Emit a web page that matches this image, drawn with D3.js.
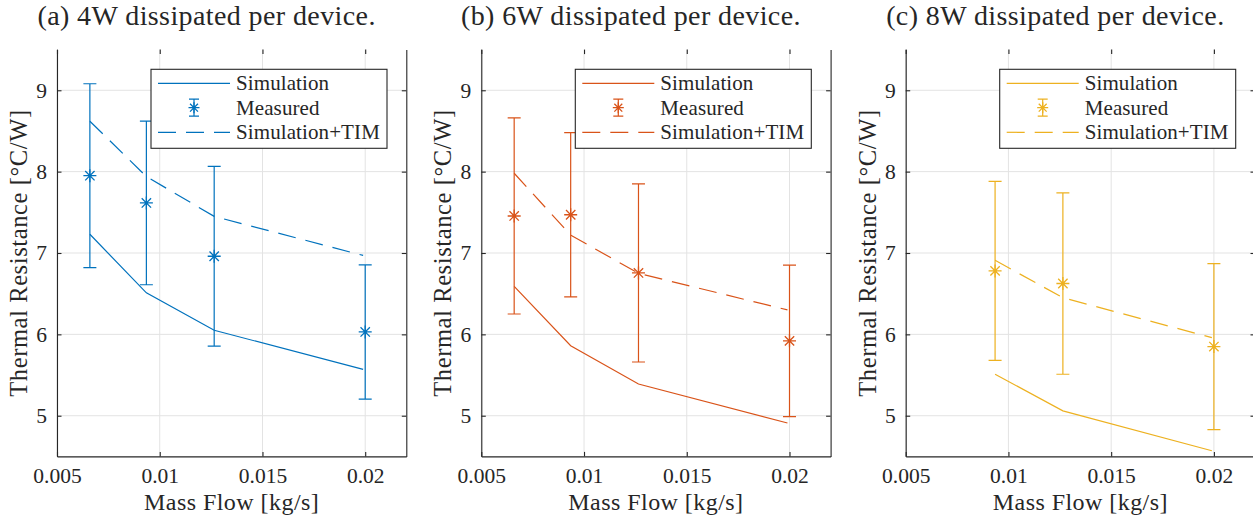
<!DOCTYPE html>
<html>
<head>
<meta charset="utf-8">
<script src="https://cdn.jsdelivr.net/npm/d3@7"></script>
<style>
  html, body { margin: 0; padding: 0; background: #fff; }
  svg { display: block; }
</style>
</head>
<body>
<svg id="chart" width="1253" height="520"></svg>
<script>
// Mass flow rates of the test points [kg/s]
const flowMeasured = [0.0066, 0.00935, 0.01265, 0.02];
const flowSim = [0.0066, 0.00935, 0.01265, 0.0199];

// 4 W per device
const measured4W = [7.95, 7.615, 6.96, 6.03];
const error4W = [1.13, 1.005, 1.105, 0.825];
const sim4W = [7.23, 6.51, 6.05, 5.57];
const simTim4W = [8.62, 7.94, 7.45, 6.97];

// 6 W per device
const measured6W = [7.455, 7.47, 6.755, 5.92];
const error6W = [1.205, 1.01, 1.095, 0.93];
const sim6W = [6.59, 5.86, 5.39, 4.91];
const simTim6W = [7.98, 7.22, 6.75, 6.30];

// 8 W per device (no run at the lowest flow)
const flowMeasured8W = [0.00935, 0.01265, 0.02];
const flowSim8W = [0.00935, 0.01265, 0.0199];
const measured8W = [6.78, 6.625, 5.85];
const error8W = [1.10, 1.115, 1.02];
const sim8W = [5.51, 5.06, 4.57];
const simTim8W = [6.91, 6.45, 5.96];

// Axes
const xTicks = [0.005, 0.01, 0.015, 0.02];
const xTickLabels = ["0.005", "0.01", "0.015", "0.02"];
const yTicks = [5, 6, 7, 8, 9];
const yTickLabels = ["5", "6", "7", "8", "9"];
const xDomain = [0.005, 0.022];
const yDomain = [4.5, 9.5];

const titles = ["(a) 4W dissipated per device.", "(b) 6W dissipated per device.", "(c) 8W dissipated per device."];
const legendLabels = ["Simulation", "Measured", "Simulation+TIM"];
const xLabel = "Mass Flow [kg/s]";
const yLabel = "Thermal Resistance [\u00B0C/W]";
const colors = ["#0072BD", "#D95319", "#EDB120"];

const panels = [
  { title: titles[0], color: colors[0], fm: flowMeasured, fs: flowSim, m: measured4W, e: error4W, s: sim4W, t: simTim4W },
  { title: titles[1], color: colors[1], fm: flowMeasured, fs: flowSim, m: measured6W, e: error6W, s: sim6W, t: simTim6W },
  { title: titles[2], color: colors[2], fm: flowMeasured8W, fs: flowSim8W, m: measured8W, e: error8W, s: sim8W, t: simTim8W }
];

const FONT = "'Liberation Serif', 'Times New Roman', Times, serif";
const svg = d3.select("#chart").style("font-family", FONT);
const axLefts = [57, 481.3, 905.7];
const axW = 349.3, axTop = 49.6, axBottom = 456.4;
const axColor = "#262626", gridColor = "#e3e3e3";
const tickLen = 4.5;
const dash = "18,10";

function label(sel, size, spacing) {
  return sel.style("font-family", FONT).style("font-size", size + "px")
    .style("letter-spacing", (spacing || 0) + "px").style("fill", axColor);
}

function asterisk(g, cx, cy, r, color, w) {
  const d = r * 0.72;
  const p = `M${cx - r},${cy}H${cx + r}M${cx},${cy - r}V${cy + r}` +
            `M${cx - d},${cy - d}L${cx + d},${cy + d}M${cx - d},${cy + d}L${cx + d},${cy - d}`;
  g.append("path").attr("d", p).attr("stroke", color).attr("stroke-width", w).attr("fill", "none");
}

panels.forEach((p, i) => {
  const left = axLefts[i];
  const x = d3.scaleLinear().domain(xDomain).range([left, left + axW]);
  const y = d3.scaleLinear().domain(yDomain).range([axBottom, axTop]);
  const g = svg.append("g");

  // grid
  g.append("g").selectAll("line").data(xTicks).join("line")
    .attr("x1", d => x(d)).attr("x2", d => x(d)).attr("y1", axTop).attr("y2", axBottom)
    .attr("stroke", gridColor).attr("stroke-width", 1);
  g.append("g").selectAll("line").data(yTicks).join("line")
    .attr("x1", left).attr("x2", left + axW).attr("y1", d => y(d)).attr("y2", d => y(d))
    .attr("stroke", gridColor).attr("stroke-width", 1);

  // axes with inward ticks on all four sides, no top spine
  const axB = g.append("g").attr("transform", `translate(0,${axBottom})`)
    .call(d3.axisBottom(x).tickValues(xTicks).tickSizeInner(-tickLen).tickSizeOuter(0)
      .tickFormat((d, k) => xTickLabels[k]).tickPadding(14));
  const axT = g.append("g").attr("transform", `translate(0,${axTop})`)
    .call(d3.axisTop(x).tickValues(xTicks).tickSizeInner(-tickLen).tickSizeOuter(0).tickFormat(""));
  const axL = g.append("g").attr("transform", `translate(${left},0)`)
    .call(d3.axisLeft(y).tickValues(yTicks).tickSizeInner(-tickLen).tickSizeOuter(0)
      .tickFormat((d, k) => yTickLabels[k]).tickPadding(10));
  const axR = g.append("g").attr("transform", `translate(${left + axW},0)`)
    .call(d3.axisRight(y).tickValues(yTicks).tickSizeInner(-tickLen).tickSizeOuter(0).tickFormat(""));
  axT.select(".domain").remove();
  [axB, axT, axL, axR].forEach(a => {
    a.attr("font-family", null).attr("font-size", null);
    a.selectAll(".domain").attr("stroke", axColor).attr("stroke-width", 1.1);
    a.selectAll(".tick line").attr("stroke", axColor).attr("stroke-width", 1.1);
    label(a.selectAll(".tick text"), 21.5);
  });
  axB.selectAll(".tick text").attr("dy", "0.71em").attr("y", 11);

  // series
  const line = d3.line().x(d => x(d[0])).y(d => y(d[1]));
  const simPts = p.fs.map((f, k) => [f, p.s[k]]);
  const timPts = p.fs.map((f, k) => [f, p.t[k]]);
  g.append("path").attr("d", line(simPts)).attr("fill", "none")
    .attr("stroke", p.color).attr("stroke-width", 1.2);
  g.append("path").attr("d", line(timPts)).attr("fill", "none")
    .attr("stroke", p.color).attr("stroke-width", 1.2).attr("stroke-dasharray", dash);

  // error bars with asterisk markers
  const cap = 6.5;
  p.fm.forEach((f, k) => {
    const cx = x(f), top = y(p.m[k] + p.e[k]), bot = y(p.m[k] - p.e[k]);
    g.append("path")
      .attr("d", `M${cx},${top}V${bot}M${cx - cap},${top}H${cx + cap}M${cx - cap},${bot}H${cx + cap}`)
      .attr("stroke", p.color).attr("stroke-width", 1.2).attr("fill", "none");
    asterisk(g, cx, y(p.m[k]), 6.5, p.color, 1.3);
  });

  // legend
  const lx = left + 94, ly = 69.3, lw = 236, lh = 79;
  const lg = g.append("g");
  lg.append("rect").attr("x", lx).attr("y", ly).attr("width", lw).attr("height", lh)
    .attr("fill", "#fff").attr("stroke", axColor).attr("stroke-width", 1.1);
  const rows = [ly + 14, ly + 38.4, ly + 63];
  lg.append("line").attr("x1", lx + 7).attr("x2", lx + 79).attr("y1", rows[0]).attr("y2", rows[0])
    .attr("stroke", p.color).attr("stroke-width", 1.2);
  const mx = lx + 43;
  lg.append("path")
    .attr("d", `M${mx},${rows[1] - 8.5}V${rows[1] + 8.5}M${mx - 5},${rows[1] - 8.5}H${mx + 5}M${mx - 5},${rows[1] + 8.5}H${mx + 5}`)
    .attr("stroke", p.color).attr("stroke-width", 1.2).attr("fill", "none");
  asterisk(lg, mx, rows[1], 5.5, p.color, 1.3);
  lg.append("line").attr("x1", lx + 7).attr("x2", lx + 79).attr("y1", rows[2]).attr("y2", rows[2])
    .attr("stroke", p.color).attr("stroke-width", 1.2).attr("stroke-dasharray", dash);
  legendLabels.forEach((t, k) => {
    label(lg.append("text").attr("x", lx + 85).attr("y", rows[k] + 7), 21, 0.1).text(t);
  });

  // titles and axis labels
  const cx = left + axW / 2;
  label(g.append("text").attr("x", cx - 25).attr("y", 25).attr("text-anchor", "middle"), 28, 0.4).text(p.title);
  label(g.append("text").attr("x", cx).attr("y", 510).attr("text-anchor", "middle"), 24, 0.45).text(xLabel);
  label(g.append("text").attr("transform", `translate(${left - 30},${(axTop + axBottom) / 2}) rotate(-90)`)
    .attr("text-anchor", "middle"), 24.5, 0.6).text(yLabel);
});
</script>
</body>
</html>
